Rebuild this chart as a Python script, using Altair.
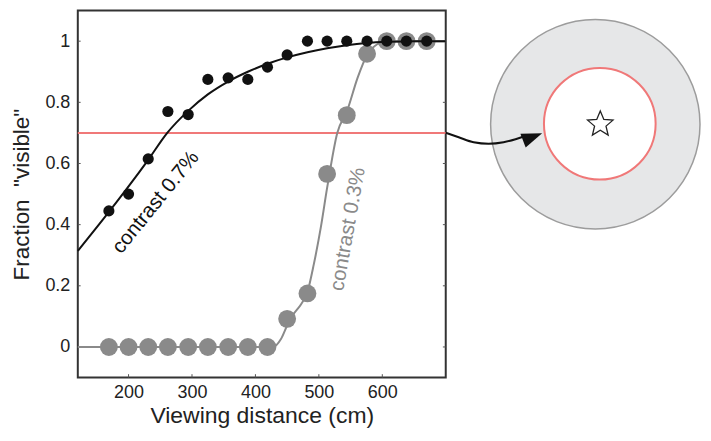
import altair as alt
import pandas as pd

# ---------------- data ----------------
distance = [169, 200, 231, 262, 294, 325, 357, 388, 419, 450, 482, 513, 544, 576, 607, 638, 670]
frac_contrast_07 = [0.445, 0.50, 0.615, 0.77, 0.76, 0.875, 0.88, 0.875, 0.915, 0.955,
                    1.0, 1.0, 1.0, 1.0, 1.0, 1.0, 1.0]
frac_contrast_03 = [0.0, 0.0, 0.0, 0.0, 0.0, 0.0, 0.0, 0.0, 0.0, 0.092,
                    0.175, 0.566, 0.758, 0.959, 1.0, 1.0, 1.0]

fit07_x = [120, 170, 200, 231, 261, 294, 325, 357, 388, 419, 450, 482, 513, 544, 575, 610, 650, 700]
fit07_y = [0.314, 0.444, 0.525, 0.612, 0.70, 0.772, 0.826, 0.868, 0.900, 0.926, 0.947, 0.964,
           0.977, 0.987, 0.994, 0.998, 1.0, 1.0]

fit03_x = [120, 428, 440, 450, 461, 472, 482, 492, 503, 513, 529, 545, 561, 576, 592, 607, 700]
fit03_y = [0.0, 0.0, 0.025, 0.07, 0.11, 0.14, 0.18, 0.27, 0.39, 0.52, 0.70, 0.775, 0.88,
           0.955, 0.99, 1.0, 1.0]

x_ticks = [200, 300, 400, 500, 600]
y_ticks = [0, 0.2, 0.4, 0.6, 0.8, 1]
x_domain = [120, 700]
y_domain = [-0.1, 1.1]
criterion = 0.7

label_07 = "contrast 0.7%"
label_03 = "contrast 0.3%"
label_07_pos = [243, 0.473]
label_03_pos = [546, 0.385]

# schematic (units of 112.5 px), placed to the right of the plot
diag_x_domain = [-4.6444, -1.3644]
diag_y_domain = [-2.2578, 1.0133]
arrow_x = [-1.3644, -1.2489, -1.1156, -0.9822, -0.8489, -0.7422, -0.6622]
arrow_y = [-0.0756, -0.1156, -0.16, -0.1733, -0.16, -0.1333, -0.1067]
arrow_head = [-0.5902, -0.1129]
outer_center = [-0.0311, 0.0]
inner_center = [0.0089, 0.0044]
star_center = [0.0133, 0.0]

FONT = "Liberation Sans"
BLACK = "#111111"
GRAY = "#8a8a8a"
RED = "#f07878"

xs = alt.Scale(domain=x_domain, nice=False, zero=False)
ys = alt.Scale(domain=y_domain, nice=False, zero=False)

x_axis = alt.Axis(values=x_ticks, format="d", title="Viewing distance (cm)", grid=False,
                  ticks=False, tickSize=0, domain=False, labelFontSize=18, titleFontSize=23,
                  labelPadding=6, titlePadding=3, labelColor="#222", titleColor="#222",
                  titleFontWeight="normal", labelFont=FONT, titleFont=FONT)
y_axis = alt.Axis(values=y_ticks, format="~g", title='Fraction\u00a0\u00a0"visible"', grid=False,
                  ticks=False, tickSize=0, domain=False, labelFontSize=18, titleFontSize=22.5,
                  labelPadding=8, titlePadding=11, labelColor="#222", titleColor="#222",
                  titleFontWeight="normal", labelFont=FONT, titleFont=FONT)


def X(field):
    return alt.X(field, type="quantitative", scale=xs, axis=x_axis)


def Y(field):
    return alt.Y(field, type="quantitative", scale=ys, axis=y_axis)


pts = pd.DataFrame({"d": distance, "c07": frac_contrast_07, "c03": frac_contrast_03})
fit07 = pd.DataFrame({"d": fit07_x, "f": fit07_y})
fit03 = pd.DataFrame({"d": fit03_x, "f": fit03_y})

tick_l = 4.5
tick_v = 0.011
ytk = pd.DataFrame({
    "d": [x_domain[0]] * len(y_ticks) + [x_domain[1]] * len(y_ticks),
    "d2": [x_domain[0] + tick_l] * len(y_ticks) + [x_domain[1] - tick_l] * len(y_ticks),
    "f": y_ticks + y_ticks,
})
xtk = pd.DataFrame({"d": x_ticks, "f": [y_domain[0]] * len(x_ticks),
                    "f2": [y_domain[0] + tick_v] * len(x_ticks)})

ticks_y = alt.Chart(ytk).mark_rule(color="#555", strokeWidth=1).encode(
    x=X("d"), x2="d2", y=Y("f"))
ticks_x = alt.Chart(xtk).mark_rule(color="#555", strokeWidth=1).encode(
    x=X("d"), y=Y("f"), y2="f2")

red = alt.Chart(pd.DataFrame({"f": [criterion]})).mark_rule(color=RED, strokeWidth=2).encode(
    y=Y("f"))

line03 = alt.Chart(fit03).mark_line(color=GRAY, strokeWidth=2, interpolate="monotone").encode(
    x=X("d"), y=Y("f"))
dots03 = alt.Chart(pts).mark_point(shape="circle", filled=True, size=320, color=GRAY,
                                   opacity=1).encode(x=X("d"), y=Y("c03"))
line07 = alt.Chart(fit07).mark_line(color=BLACK, strokeWidth=2, interpolate="monotone").encode(
    x=X("d"), y=Y("f"))
dots07 = alt.Chart(pts).mark_point(shape="circle", filled=True, size=125, color=BLACK,
                                   opacity=1).encode(x=X("d"), y=Y("c07"))

txt07 = alt.Chart(pd.DataFrame({"d": [label_07_pos[0]], "f": [label_07_pos[1]], "t": [label_07]})
                  ).mark_text(angle=309, fontSize=20.5, font=FONT, color=BLACK, align="center",
                              baseline="middle").encode(x=X("d"), y=Y("f"), text="t:N")
txt03 = alt.Chart(pd.DataFrame({"d": [label_03_pos[0]], "f": [label_03_pos[1]], "t": [label_03]})
                  ).mark_text(angle=280, fontSize=20.5, font=FONT, color=GRAY, align="center",
                              baseline="middle").encode(x=X("d"), y=Y("f"), text="t:N")

plot = alt.layer(ticks_y, ticks_x, red, line03, dots03, line07, dots07, txt07, txt03)

# ---------------- schematic on the right ----------------
dxs = alt.Scale(domain=diag_x_domain, nice=False, zero=False)
dys = alt.Scale(domain=diag_y_domain, nice=False, zero=False)


def DX(field):
    return alt.X(field, type="quantitative", scale=dxs, axis=None)


def DY(field):
    return alt.Y(field, type="quantitative", scale=dys, axis=None)


outer = alt.Chart(pd.DataFrame({"sx": [outer_center[0]], "sy": [outer_center[1]]})).mark_point(
    shape="circle", filled=True, size=44100, fill="#e6e7e8", stroke="#9c9c9c",
    strokeWidth=1.5, opacity=1).encode(x=DX("sx"), y=DY("sy"))
inner = alt.Chart(pd.DataFrame({"sx": [inner_center[0]], "sy": [inner_center[1]]})).mark_point(
    shape="circle", filled=True, size=12544, fill="white", stroke=RED,
    strokeWidth=2, opacity=1).encode(x=DX("sx"), y=DY("sy"))
star_path = ("M0,-1 L0.265,-0.364 L0.951,-0.309 L0.428,0.139 L0.588,0.809 L0,0.45 "
             "L-0.588,0.809 L-0.428,0.139 L-0.951,-0.309 L-0.265,-0.364 Z")
star = alt.Chart(pd.DataFrame({"sx": [star_center[0]], "sy": [star_center[1]]})).mark_point(
    shape=star_path, filled=True, size=720, fill="white", stroke="#222",
    strokeWidth=1.3, opacity=1).encode(x=DX("sx"), y=DY("sy"))
arrow = alt.Chart(pd.DataFrame({"sx": arrow_x, "sy": arrow_y})).mark_line(
    color=BLACK, strokeWidth=2, interpolate="monotone").encode(x=DX("sx"), y=DY("sy"))
head = alt.Chart(pd.DataFrame({"sx": [arrow_head[0]], "sy": [arrow_head[1]]})).mark_point(
    shape="M1,0 L-1,-0.72 L-1,0.72 Z", filled=True, size=420, color=BLACK, angle=339,
    opacity=1).encode(x=DX("sx"), y=DY("sy"))

schematic = alt.layer(outer, inner, star, arrow, head)

chart = alt.layer(plot, schematic).resolve_scale(x="independent", y="independent").properties(
    width=369, height=368,
    padding={"left": 2, "top": 2, "right": 0, "bottom": 0},
).configure(font=FONT).configure_view(stroke="#333333", strokeWidth=2)

chart.save("out.html", embed_options={"renderer": "svg", "actions": False})
